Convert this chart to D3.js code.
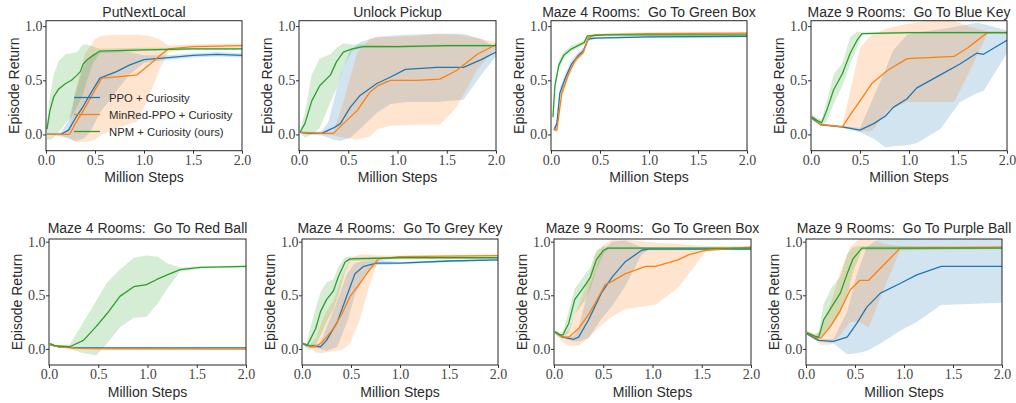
<!DOCTYPE html>
<html>
<head>
<meta charset="utf-8">
<script src="https://cdn.jsdelivr.net/npm/d3@7"></script>
<style>
  body { margin: 0; background: #fff; }
  text { font-family: "Liberation Sans", Arial, sans-serif; fill: #2b2b2b; }
  .tick text { font-family: "Liberation Serif", "Times New Roman", serif; font-size: 14px; fill: #444; }
</style>
</head>
<body>
<svg id="chart" width="1016" height="403"></svg>
<script>
// rows are [million steps, mean return, band low, band high]
const methods = ["PPO + Curiosity", "MinRed-PPO + Curiosity", "NPM + Curiosity (ours)"];
const colors = ["#1f77b4", "#ff7f0e", "#2ca02c"];
const titles = [
  "PutNextLocal", "Unlock Pickup", "Maze 4 Rooms:  Go To Green Box", "Maze 9 Rooms:  Go To Blue Key",
  "Maze 4 Rooms:  Go To Red Ball", "Maze 4 Rooms:  Go To Grey Key", "Maze 9 Rooms:  Go To Green Box", "Maze 9 Rooms:  Go To Purple Ball"
];
const xTicks = [0, 0.5, 1, 1.5, 2];
const yTicks = [0, 0.5, 1];

// PutNextLocal
const putNextPPO = [[0.01,0,0,0.01],[0.1,0,-0.01,0.01],[0.15,0,-0.02,0.02],[0.23,0.04,-0.04,0.12],[0.3,0.15,-0.06,0.38],
  [0.38,0.26,-0.04,0.62],[0.45,0.37,0.02,0.72],[0.55,0.52,0.2,0.76],[0.72,0.58,0.4,0.77],[0.85,0.64,0.55,0.76],
  [1.0,0.69,0.66,0.73],[1.25,0.71,0.69,0.73],[1.5,0.73,0.71,0.75],[1.75,0.74,0.72,0.76],[2.0,0.73,0.71,0.75]];
const putNextMinRed = [[0.01,0,0,0.01],[0.15,0,-0.01,0.01],[0.24,0,-0.03,0.05],[0.3,0.1,-0.07,0.4],[0.4,0.25,-0.07,0.75],
  [0.5,0.41,-0.05,0.88],[0.57,0.52,0.0,0.91],[0.7,0.53,0.05,0.92],[0.93,0.55,0.12,0.92],[1.05,0.64,0.35,0.91],
  [1.15,0.72,0.58,0.88],[1.25,0.79,0.76,0.82],[1.5,0.81,0.79,0.83],[2.0,0.82,0.8,0.84]];
const putNextNPM = [[0.01,0.05,-0.05,0.1],[0.04,0.22,-0.05,0.35],[0.08,0.35,-0.03,0.55],[0.13,0.42,0.02,0.68],[0.2,0.47,0.1,0.74],
  [0.26,0.5,0.16,0.75],[0.32,0.55,0.26,0.76],[0.35,0.58,0.31,0.8],[0.38,0.65,0.38,0.83],[0.42,0.69,0.5,0.83],
  [0.48,0.73,0.66,0.81],[0.55,0.77,0.75,0.79],[1.0,0.78,0.77,0.8],[1.5,0.79,0.78,0.8],[2.0,0.79,0.78,0.8]];

// Unlock Pickup
const unlockPPO = [[0.01,0.02,0.01,0.03],[0.11,0.01,0,0.02],[0.23,0.01,-0.01,0.03],[0.3,0.04,-0.03,0.12],[0.35,0.06,-0.05,0.3],
  [0.42,0.1,-0.06,0.55],[0.52,0.25,-0.03,0.78],[0.62,0.36,0.05,0.85],[0.79,0.47,0.2,0.9],[0.93,0.53,0.28,0.91],
  [1.08,0.6,0.3,0.92],[1.4,0.62,0.3,0.93],[1.67,0.62,0.32,0.93],[1.85,0.69,0.55,0.88],[2.0,0.76,0.72,0.8]];
const unlockMinRed = [[0.01,0.02,0.01,0.03],[0.23,0.01,0,0.02],[0.35,0.01,-0.01,0.03],[0.45,0.1,-0.03,0.3],[0.59,0.22,-0.05,0.75],
  [0.72,0.39,-0.02,0.88],[0.8,0.45,0.05,0.9],[0.93,0.5,0.08,0.9],[1.2,0.5,0.09,0.91],[1.43,0.51,0.09,0.93],
  [1.6,0.59,0.25,0.92],[1.81,0.74,0.6,0.89],[2.0,0.83,0.8,0.85]];
const unlockNPM = [[0.01,0.02,0.02,0.03],[0.06,0.1,-0.03,0.2],[0.13,0.31,0,0.55],[0.21,0.45,0.06,0.7],[0.32,0.55,0.3,0.74],
  [0.38,0.67,0.42,0.8],[0.45,0.76,0.62,0.84],[0.54,0.79,0.77,0.83],[0.65,0.81,0.8,0.83],[1.0,0.81,0.8,0.82],
  [1.5,0.82,0.81,0.83],[2.0,0.82,0.81,0.83]];

// Maze 4 Rooms: Go To Green Box
const m4GreenBoxPPO = [[0.03,0.04,0.02,0.06],[0.06,0.1,0.06,0.14],[0.09,0.38,0.33,0.43],[0.15,0.53,0.49,0.57],[0.21,0.65,0.61,0.69],
  [0.28,0.73,0.7,0.76],[0.33,0.77,0.74,0.8],[0.38,0.88,0.86,0.9],[0.45,0.89,0.88,0.9],[1.0,0.9,0.89,0.91],[2.0,0.905,0.895,0.915]];
const m4GreenBoxMinRed = [[0.03,0.05,0.03,0.07],[0.06,0.04,0.02,0.06],[0.11,0.38,0.34,0.42],[0.18,0.56,0.52,0.6],[0.25,0.69,0.66,0.72],
  [0.33,0.76,0.73,0.79],[0.38,0.89,0.87,0.91],[0.45,0.92,0.91,0.93],[1.0,0.93,0.92,0.94],[2.0,0.935,0.925,0.945]];
const m4GreenBoxNPM = [[0.02,0.16,0.12,0.2],[0.04,0.45,0.4,0.5],[0.08,0.64,0.6,0.68],[0.13,0.73,0.7,0.76],[0.21,0.79,0.77,0.82],
  [0.32,0.84,0.82,0.86],[0.34,0.85,0.83,0.87],[0.37,0.91,0.89,0.92],[0.55,0.92,0.91,0.93],[2.0,0.92,0.91,0.93]];

// Maze 9 Rooms: Go To Blue Key
const m9BlueKeyPPO = [[0.01,0.15,0.13,0.17],[0.1,0.09,0.08,0.1],[0.32,0.07,0.06,0.08],[0.5,0.04,0.02,0.06],[0.64,0.1,-0.04,0.35],
  [0.76,0.17,-0.12,0.6],[0.84,0.25,-0.11,0.78],[0.98,0.33,-0.1,0.92],[1.08,0.43,-0.08,0.94],[1.32,0.55,0.05,0.97],
  [1.52,0.65,0.3,1.0],[1.69,0.75,0.38,1.03],[1.76,0.74,0.4,1.02],[2.0,0.87,0.75,0.96]];
const m9BlueKeyMinRed = [[0.01,0.16,0.14,0.18],[0.1,0.09,0.08,0.1],[0.32,0.07,0.06,0.08],[0.4,0.18,0.05,0.4],[0.5,0.31,0.03,0.8],
  [0.62,0.47,0.03,0.92],[0.78,0.59,0.22,0.98],[0.98,0.7,0.3,1.02],[1.2,0.71,0.3,1.05],[1.46,0.72,0.3,1.05],
  [1.6,0.8,0.55,1.0],[1.8,0.94,0.93,0.95],[2.0,0.94,0.93,0.95]];
const m9BlueKeyNPM = [[0.01,0.16,0.14,0.18],[0.06,0.13,0.11,0.15],[0.11,0.11,0.09,0.14],[0.16,0.22,0.12,0.3],[0.23,0.41,0.28,0.55],
  [0.32,0.56,0.45,0.66],[0.4,0.75,0.65,0.9],[0.47,0.87,0.8,0.95],[0.52,0.93,0.92,0.94],[1.0,0.94,0.93,0.95],[2.0,0.94,0.93,0.95]];

// Maze 4 Rooms: Go To Red Ball
const m4RedBallPPO = [[0.01,0.04,0.03,0.05],[0.1,0.02,0.015,0.025],[0.3,0.01,0.005,0.015],[2.0,0.01,0.005,0.015]];
const m4RedBallMinRed = [[0.01,0.04,0.03,0.05],[0.1,0.02,0.015,0.025],[0.3,0.005,0,0.01],[0.6,0,-0.005,0.005],[2.0,-0.002,-0.006,0.002]];
const m4RedBallNPM = [[0.01,0.05,0.04,0.06],[0.06,0.03,0.02,0.04],[0.21,0.02,0,0.04],[0.35,0.08,-0.04,0.25],[0.48,0.21,-0.06,0.45],
  [0.59,0.33,0.05,0.62],[0.72,0.49,0.2,0.74],[0.86,0.58,0.29,0.85],[0.99,0.6,0.3,0.87],[1.1,0.65,0.42,0.86],
  [1.2,0.69,0.56,0.8],[1.33,0.74,0.72,0.76],[1.54,0.76,0.75,0.77],[2.0,0.77,0.76,0.78]];

// Maze 4 Rooms: Go To Grey Key
const m4GreyKeyPPO = [[0.01,0.05,0.04,0.06],[0.07,0.03,0.02,0.04],[0.19,0.02,0,0.05],[0.25,0.08,-0.02,0.2],[0.36,0.25,0.02,0.45],
  [0.46,0.5,0.25,0.7],[0.54,0.7,0.5,0.8],[0.63,0.77,0.68,0.82],[0.76,0.8,0.78,0.83],[1.0,0.8,0.79,0.81],
  [1.5,0.82,0.81,0.83],[2.0,0.83,0.82,0.84]];
const m4GreyKeyMinRed = [[0.01,0.05,0.04,0.06],[0.08,0.02,0.01,0.04],[0.14,0.02,-0.03,0.1],[0.2,0.06,-0.04,0.25],[0.25,0.11,-0.03,0.35],
  [0.32,0.19,-0.02,0.45],[0.41,0.33,-0.01,0.68],[0.49,0.49,0.05,0.84],[0.59,0.61,0.27,0.88],[0.69,0.74,0.6,0.88],
  [0.78,0.84,0.82,0.87],[1.0,0.86,0.85,0.87],[2.0,0.87,0.86,0.88]];
const m4GreyKeyNPM = [[0.01,0.05,0.04,0.06],[0.05,0.03,0,0.05],[0.08,0.08,-0.01,0.18],[0.14,0.19,0.04,0.38],[0.19,0.35,0.13,0.53],
  [0.25,0.46,0.25,0.62],[0.32,0.54,0.37,0.65],[0.37,0.67,0.5,0.76],[0.44,0.81,0.72,0.86],[0.49,0.84,0.82,0.86],
  [1.0,0.85,0.84,0.86],[2.0,0.85,0.84,0.86]];

// Maze 9 Rooms: Go To Green Box
const m9GreenBoxPPO = [[0.01,0.16,0.14,0.17],[0.09,0.11,0.1,0.12],[0.2,0.09,0.07,0.12],[0.25,0.11,0.07,0.2],[0.35,0.27,0.1,0.55],
  [0.48,0.52,0.28,0.9],[0.59,0.67,0.4,1.0],[0.72,0.81,0.58,1.01],[0.89,0.92,0.88,0.95],[0.96,0.93,0.92,0.94],[2.0,0.93,0.92,0.94]];
const m9GreenBoxMinRed = [[0.01,0.16,0.14,0.17],[0.08,0.11,0.07,0.13],[0.15,0.11,0.03,0.18],[0.25,0.19,0.03,0.4],[0.35,0.32,0.1,0.65],
  [0.42,0.43,0.17,0.88],[0.52,0.6,0.25,0.98],[0.59,0.63,0.3,1.02],[0.72,0.7,0.37,1.02],[0.93,0.77,0.4,1.0],
  [1.03,0.77,0.41,0.99],[1.26,0.83,0.57,0.98],[1.37,0.88,0.7,0.97],[1.54,0.92,0.91,0.96],[2.0,0.95,0.94,0.96]];
const m9GreenBoxNPM = [[0.01,0.16,0.14,0.17],[0.06,0.13,0.11,0.15],[0.09,0.13,0.1,0.16],[0.15,0.24,0.15,0.35],[0.21,0.46,0.32,0.56],
  [0.32,0.6,0.46,0.7],[0.37,0.67,0.56,0.76],[0.43,0.83,0.74,0.92],[0.5,0.92,0.88,0.96],[0.55,0.94,0.93,0.95],[2.0,0.94,0.93,0.95]];

// Maze 9 Rooms: Go To Purple Ball
const m9PurpleBallPPO = [[0.01,0.14,0.13,0.16],[0.13,0.08,0.07,0.09],[0.28,0.07,0.05,0.09],[0.42,0.11,-0.05,0.35],[0.52,0.24,-0.04,0.7],
  [0.62,0.39,-0.02,0.95],[0.76,0.52,0.05,1.04],[0.96,0.61,0.17,1.04],[1.13,0.69,0.25,1.04],[1.38,0.77,0.41,1.04],[2.0,0.77,0.43,1.04]];
const m9PurpleBallMinRed = [[0.01,0.15,0.14,0.17],[0.09,0.11,0.08,0.13],[0.15,0.1,0.04,0.16],[0.25,0.21,0.04,0.42],[0.35,0.36,0.13,0.72],
  [0.45,0.55,0.25,0.95],[0.55,0.64,0.25,1.03],[0.64,0.64,0.2,1.04],[0.79,0.78,0.55,0.98],[0.96,0.94,0.92,0.96],[2.0,0.95,0.94,0.96]];
const m9PurpleBallNPM = [[0.01,0.15,0.14,0.17],[0.09,0.12,0.1,0.14],[0.13,0.11,0.1,0.16],[0.18,0.27,0.14,0.42],[0.26,0.39,0.22,0.57],
  [0.35,0.52,0.33,0.67],[0.42,0.7,0.5,0.88],[0.48,0.84,0.72,0.95],[0.57,0.94,0.92,0.96],[2.0,0.94,0.93,0.95]];

const panelSeries = [
  [putNextPPO, putNextMinRed, putNextNPM],
  [unlockPPO, unlockMinRed, unlockNPM],
  [m4GreenBoxPPO, m4GreenBoxMinRed, m4GreenBoxNPM],
  [m9BlueKeyPPO, m9BlueKeyMinRed, m9BlueKeyNPM],
  [m4RedBallPPO, m4RedBallMinRed, m4RedBallNPM],
  [m4GreyKeyPPO, m4GreyKeyMinRed, m4GreyKeyNPM],
  [m9GreenBoxPPO, m9GreenBoxMinRed, m9GreenBoxNPM],
  [m9PurpleBallPPO, m9PurpleBallMinRed, m9PurpleBallNPM]
];

// axes boxes in pixels: [left, right, top, bottom]
const frames = [
  [46, 242, 20.7, 150.7], [299, 496, 20.7, 150.7], [551, 747, 20.7, 150.7], [811, 1007, 20.7, 150.7],
  [49, 246, 239, 365], [302, 498, 239, 365], [554, 751, 239, 365], [806, 1002, 239, 365]
];
const yDomains = [[-0.15, 1.05], [-0.15, 1.025]];

const svg = d3.select("#chart");
const fmt = d3.format(".1f");

frames.forEach((f, i) => {
  const [l, r, t, b] = f;
  const row = i < 4 ? 0 : 1;
  const x = d3.scaleLinear().domain([0, 2]).range([l, r]);
  const y = d3.scaleLinear().domain(yDomains[row]).range([b, t]);
  const g = svg.append("g");

  g.append("clipPath").attr("id", "clip" + i)
    .append("rect").attr("x", l).attr("y", t).attr("width", r - l).attr("height", b - t);
  const plot = g.append("g").attr("clip-path", `url(#clip${i})`);

  const area = d3.area().x(d => x(d[0])).y0(d => y(d[2])).y1(d => y(d[3]));
  const line = d3.line().x(d => x(d[0])).y(d => y(d[1]));

  panelSeries[i].forEach((s, k) => {
    plot.append("path").attr("d", area(s))
      .attr("fill", colors[k]).attr("fill-opacity", 0.2).attr("stroke", "none");
  });
  panelSeries[i].forEach((s, k) => {
    plot.append("path").attr("d", line(s))
      .attr("fill", "none").attr("stroke", colors[k]).attr("stroke-width", 1.3)
      .attr("stroke-linejoin", "round");
  });

  const xAxis = g.append("g").attr("transform", `translate(0,${b})`)
    .call(d3.axisBottom(x).tickValues(xTicks).tickFormat(fmt).tickSize(3).tickPadding(1.5));
  const yAxis = g.append("g").attr("transform", `translate(${l},0)`)
    .call(d3.axisLeft(y).tickValues(yTicks).tickFormat(fmt).tickSize(3).tickPadding(0.5));
  [xAxis, yAxis].forEach(a => {
    a.select(".domain").remove();
    a.selectAll(".tick line").attr("stroke", "#333");
  });

  g.append("rect").attr("x", l).attr("y", t).attr("width", r - l).attr("height", b - t)
    .attr("fill", "none").attr("stroke", "#262626").attr("stroke-width", 1);

  g.append("text").attr("x", (l + r) / 2).attr("y", row === 0 ? t - 4 : t - 5.7)
    .attr("text-anchor", "middle").style("font-size", "14px").style("white-space", "pre")
    .text(titles[i]);
  g.append("text").attr("x", (l + r) / 2).attr("y", b + 31.5)
    .attr("text-anchor", "middle").style("font-size", "14px").text("Million Steps");
  g.append("text")
    .attr("transform", `translate(${l - 27},${(t + b) / 2}) rotate(-90)`)
    .attr("text-anchor", "middle").style("font-size", "14px").text("Episode Return");

  if (i === 0) {
    const leg = g.append("g");
    methods.forEach((m, k) => {
      const ly = 97.5 + k * 17;
      leg.append("line").attr("x1", 74).attr("x2", 100).attr("y1", ly).attr("y2", ly)
        .attr("stroke", colors[k]).attr("stroke-width", 1.3);
      leg.append("text").attr("x", 109).attr("y", ly + 4)
        .style("font-size", "11.3px").text(m);
    });
  }
});
</script>
</body>
</html>
